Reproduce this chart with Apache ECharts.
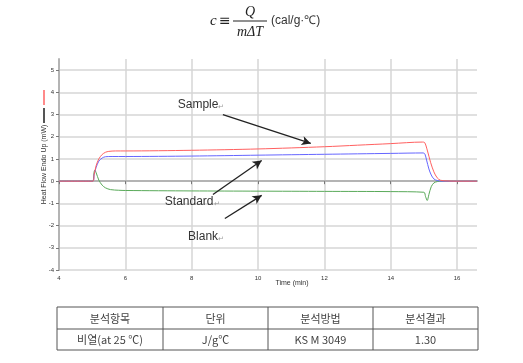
<!DOCTYPE html>
<html><head><meta charset="utf-8">
<script src="https://cdn.jsdelivr.net/npm/echarts@6/dist/echarts.min.js"></script>
<style>html,body{margin:0;padding:0;background:#fff}#c{width:523px;height:363px}</style>
</head><body><div id="c"></div>
<script>
// ---- data ----
const xTicks = [4, 6, 8, 10, 12, 14, 16];
const yTicks = [-4, -3, -2, -1, 0, 1, 2, 3, 4, 5];
const sampleX = [4, 5.02, 5.06, 5.12, 5.2, 5.3, 5.4, 5.5, 5.7, 6, 8, 10, 12, 13, 14, 14.95, 15.02, 15.1, 15.2, 15.3, 15.4, 15.5, 15.7, 16, 16.6];
const sampleY = [0, 0, 0.3, 0.7, 1.0, 1.2, 1.3, 1.34, 1.36, 1.36, 1.39, 1.45, 1.55, 1.62, 1.69, 1.76, 1.74, 1.4, 0.85, 0.42, 0.15, 0.04, 0.01, 0, 0];
const standardX = [4, 5.02, 5.06, 5.12, 5.2, 5.3, 5.4, 5.6, 6, 8, 10, 12, 14, 14.98, 15.03, 15.08, 15.15, 15.22, 15.3, 15.4, 15.55, 16, 16.6];
const standardY = [0, 0, 0.3, 0.62, 0.9, 1.04, 1.1, 1.11, 1.11, 1.13, 1.17, 1.21, 1.25, 1.27, 1.22, 0.95, 0.55, 0.28, 0.1, 0.03, 0, 0, 0];
const blankX = [4, 5.02, 5.05, 5.08, 5.12, 5.2, 5.3, 5.4, 5.55, 5.8, 6, 8, 10, 12, 14, 15.0, 15.05, 15.1, 15.15, 15.22, 15.3, 15.4, 15.55, 16, 16.6];
const blankY = [0, 0, 0.35, 0.5, 0.38, 0.05, -0.18, -0.3, -0.38, -0.41, -0.42, -0.44, -0.45, -0.46, -0.47, -0.5, -0.7, -0.87, -0.6, -0.25, -0.08, -0.02, 0, 0, 0];
const annotations = [
  {text: 'Sample', at: [7.58, 3.45], from: [8.94, 3.0], to: [11.59, 1.7]},
  {text: 'Standard', at: [7.19, -0.91], from: [8.64, -0.6], to: [10.11, 0.93]},
  {text: 'Blank', at: [7.89, -2.49], from: [9.0, -1.68], to: [10.11, -0.64]}
];
const tableHeader = ['분석항목', '단위', '분석방법', '분석결과'];
const tableRow = ['비열(at 25 ℃)', 'J/g℃', 'KS M 3049', '1.30'];

// ---- chart ----
const zip = (xs, ys) => xs.map((x, i) => [x, ys[i]]);
const chart = echarts.init(document.getElementById('c'));
const axisFont = {fontFamily: 'Liberation Sans', fontSize: 7, color: '#333'};
const tickFont = {fontFamily: 'Liberation Sans', fontSize: 6, color: '#333'};

const colX = [57, 163, 268, 373, 478];
const rowY = [307, 329, 350];
const graphic = [];
// legend swatches near y-axis name
graphic.push({type: 'rect', shape: {x: 43, y: 90, width: 2, height: 15}, style: {fill: '#ff8a8a'}});
graphic.push({type: 'rect', shape: {x: 43, y: 108, width: 2, height: 15}, style: {fill: '#555'}});
// formula
graphic.push({type: 'text', style: {x: 210, y: 21, text: 'c', font: 'italic 15px "Liberation Serif"', fill: '#222', verticalAlign: 'middle'}});
graphic.push({type: 'text', style: {x: 219, y: 21, text: '≡', font: '14px "DejaVu Sans"', fill: '#222', verticalAlign: 'middle'}});
graphic.push({type: 'text', style: {x: 250, y: 12, text: 'Q', font: 'italic 14px "Liberation Serif"', fill: '#222', align: 'center', verticalAlign: 'middle'}});
graphic.push({type: 'rect', shape: {x: 233, y: 20.5, width: 34, height: 1}, style: {fill: '#222'}});
graphic.push({type: 'text', style: {x: 250, y: 32, text: 'mΔT', font: 'italic 14px "Liberation Serif"', fill: '#222', align: 'center', verticalAlign: 'middle'}});
graphic.push({type: 'text', style: {x: 271, y: 21, text: '(cal/g·℃)', font: '12px "Liberation Sans"', fill: '#333', verticalAlign: 'middle'}});
// table
for (const y of rowY) graphic.push({type: 'line', shape: {x1: colX[0], y1: y, x2: colX[4], y2: y}, style: {stroke: '#555', lineWidth: 1}});
for (const x of colX) graphic.push({type: 'line', shape: {x1: x, y1: rowY[0], x2: x, y2: rowY[2]}, style: {stroke: '#555', lineWidth: 1}});
[tableHeader, tableRow].forEach((row, r) => {
  row.forEach((t, c) => {
    graphic.push({type: 'text', style: {x: (colX[c] + colX[c + 1]) / 2, y: (rowY[r] + rowY[r + 1]) / 2 + 0.5, text: t,
      font: '11px "Noto Sans CJK KR"', fill: '#444', align: 'center', verticalAlign: 'middle'}});
  });
});

chart.setOption({
  animation: false,
  backgroundColor: '#fff',
  grid: {left: 59, right: 46, top: 59, bottom: 93},
  xAxis: {
    type: 'value', min: 4, max: 16.6, interval: 2,
    name: 'Time (min)', nameLocation: 'middle', nameGap: 10, nameMoveOverlap: false,
    nameTextStyle: {...axisFont, padding: [0, 0, 0, 48]},
    axisLine: {lineStyle: {color: '#b4b4b4', width: 2}},
    axisTick: {customValues: xTicks, length: 3, lineStyle: {color: '#777'}},
    axisLabel: {customValues: xTicks, ...tickFont, margin: 5},
    splitLine: {show: true, lineStyle: {color: '#d6d6d6', width: 1.5}}
  },
  yAxis: {
    type: 'value', min: -4, max: 5.5, interval: 1,
    name: 'Heat Flow Endo Up (mW)', nameLocation: 'middle', nameGap: 11, nameMoveOverlap: false,
    nameTextStyle: axisFont,
    axisLine: {show: true, lineStyle: {color: '#b4b4b4', width: 2}},
    axisTick: {show: true, customValues: yTicks, length: 3, lineStyle: {color: '#777'}},
    axisLabel: {customValues: yTicks, ...tickFont, margin: 5},
    splitLine: {show: true, lineStyle: {color: '#d6d6d6', width: 1.5}}
  },
  series: [
    {type: 'line', name: 'Blank', data: zip(blankX, blankY), showSymbol: false, smooth: 0.3,
      lineStyle: {color: '#5aaa5a', width: 1}, itemStyle: {color: '#5aaa5a'}},
    {type: 'line', name: 'Standard', data: zip(standardX, standardY), showSymbol: false, smooth: 0.3,
      lineStyle: {color: '#6666ff', width: 1}, itemStyle: {color: '#6666ff'}},
    {type: 'line', name: 'Sample', data: zip(sampleX, sampleY), showSymbol: false, smooth: 0.3,
      lineStyle: {color: '#ff6060', width: 1}, itemStyle: {color: '#ff6060'},
      markLine: {silent: true, symbol: ['none', 'arrow'], symbolSize: [7, 9], label: {show: false},
        lineStyle: {color: '#222', width: 1.3, type: 'solid'},
        data: annotations.map(a => [{coord: a.from}, {coord: a.to}])},
      markPoint: {silent: true, symbol: 'circle', symbolSize: 0,
        label: {show: true, position: 'right', distance: 0,
          formatter: p => '{a|' + p.name + '}{b|↵}',
          rich: {a: {fontFamily: 'Liberation Sans', fontSize: 12, color: '#333'}, b: {fontSize: 7, color: '#999', verticalAlign: 'bottom'}}},
        data: annotations.map(a => ({name: a.text, coord: a.at}))}
    }
  ],
  graphic: graphic
});
</script></body></html>
